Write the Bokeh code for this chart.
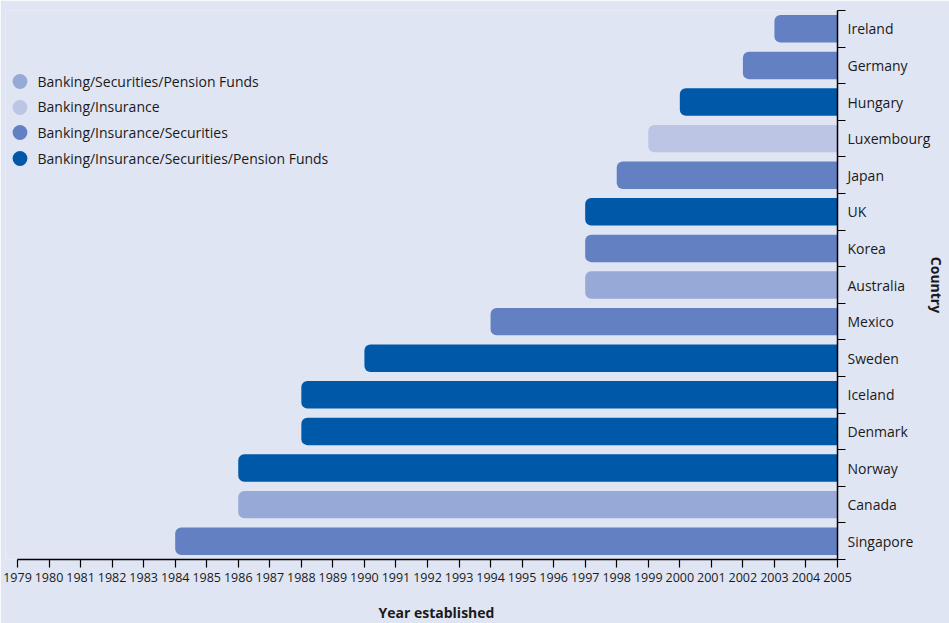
from bokeh.plotting import figure
from bokeh.models import ColumnDataSource, FixedTicker, Legend, LegendItem, Range1d, Title
from bokeh.embed import file_html
from bokeh.resources import INLINE

# Countries listed bottom to top, with the year the integrated supervisor was set up
countries = ["Singapore", "Canada", "Norway", "Denmark", "Iceland", "Sweden", "Mexico",
             "Australia", "Korea", "UK", "Japan", "Luxembourg", "Hungary", "Germany", "Ireland"]
start_years = [1984, 1986, 1986, 1988, 1988, 1990, 1994, 1997, 1997, 1997, 1998, 1999, 2000, 2002, 2003]
sectors = [
    "Banking/Insurance/Securities",
    "Banking/Securities/Pension Funds",
    "Banking/Insurance/Securities/Pension Funds",
    "Banking/Insurance/Securities/Pension Funds",
    "Banking/Insurance/Securities/Pension Funds",
    "Banking/Insurance/Securities/Pension Funds",
    "Banking/Insurance/Securities",
    "Banking/Securities/Pension Funds",
    "Banking/Insurance/Securities",
    "Banking/Insurance/Securities/Pension Funds",
    "Banking/Insurance/Securities",
    "Banking/Insurance",
    "Banking/Insurance/Securities/Pension Funds",
    "Banking/Insurance/Securities",
    "Banking/Insurance/Securities",
]
sector_order = [
    "Banking/Securities/Pension Funds",
    "Banking/Insurance",
    "Banking/Insurance/Securities",
    "Banking/Insurance/Securities/Pension Funds",
]
first_year = 1979
last_year = 2005
year_ticks = list(range(first_year, last_year + 1))

BG = "#e0e5f3"
TEXT = "#1a1a1a"
FONT = "Open Sans"
palette = {
    "Banking/Securities/Pension Funds": "#97a9d6",
    "Banking/Insurance": "#bcc5e4",
    "Banking/Insurance/Securities": "#6381c2",
    "Banking/Insurance/Securities/Pension Funds": "#0058a8",
}

rows = list(range(len(countries)))
source = ColumnDataSource(data=dict(
    y=rows,
    left=start_years,
    right=[last_year] * len(countries),
    color=[palette[s] for s in sectors],
))

# a little room left of 1979 so the legend markers are not clipped
FRAME_H = 549
lead = 0.38
p = figure(
    frame_width=832, frame_height=FRAME_H,
    x_range=Range1d(first_year - lead, last_year),
    y_range=Range1d(-0.5, len(countries) - 0.5),
    y_axis_location="right",
    output_backend="svg", toolbar_location=None,
    min_border_left=5, min_border_top=10, min_border_right=0, min_border_bottom=0,
    background_fill_color=BG, border_fill_color=BG, outline_line_color=None,
)
p.grid.visible = False

p.hbar(y="y", left="left", right="right", height=0.75, color="color",
       line_color=None, border_radius=(6, 0, 0, 6), source=source)

# x axis: one tick per year, line only across the year span
xa = p.xaxis[0]
xa.bounds = (first_year, last_year)
xa.ticker = FixedTicker(ticks=year_ticks, minor_ticks=[])
xa.major_tick_out = 8
xa.major_tick_in = 0
xa.axis_line_width = 1.5
xa.major_tick_line_width = 1.2
xa.axis_line_color = "black"
xa.major_label_text_font = FONT
xa.major_label_text_font_size = "12.5px"
xa.major_label_text_color = TEXT
xa.major_label_standoff = 5

p.add_layout(Title(text="Year established", align="left", offset=373, standoff=32,
                   text_font=FONT, text_font_size="14px", text_font_style="bold",
                   text_color=TEXT), "below")

# y axis: country names centred on rows, tick marks on row boundaries
ya = p.yaxis[0]
ya.ticker = FixedTicker(ticks=rows, minor_ticks=[r - 0.5 for r in rows] + [len(rows) - 0.5])
ya.major_label_overrides = {r: c for r, c in zip(rows, countries)}
ya.major_tick_out = 0
ya.major_tick_in = 0
ya.minor_tick_out = 8
ya.minor_tick_in = 0
ya.minor_tick_line_color = "black"
ya.minor_tick_line_width = 1.2
ya.axis_line_width = 1.5
ya.axis_line_color = "black"
ya.major_label_text_font = FONT
ya.major_label_text_font_size = "14px"
ya.major_label_text_color = TEXT
ya.major_label_standoff = 2
ya.axis_label = "Country"
ya.axis_label_text_font = FONT
ya.axis_label_text_font_size = "14px"
ya.axis_label_text_font_style = "bold"
ya.axis_label_text_color = TEXT
ya.axis_label_standoff = -6

# legend: one single-item legend per sector so the rows can sit closer
# than the marker box; the marker renderers themselves stay hidden
GLYPH_W, GLYPH_H = 37, 38
first_center = 71      # px below the frame top
row_step = 25.7
for i, s in enumerate(sector_order):
    r = p.scatter(x=[first_year], y=[rows[0]], marker="circle", size=15,
                  fill_color=palette[s], line_color=None, visible=False)
    center = first_center + i * row_step
    legend = Legend(
        items=[LegendItem(label=s, renderers=[r])],
        location=(-4.5, FRAME_H - center - GLYPH_H / 2),
        background_fill_alpha=0, border_line_alpha=0,
        padding=0, margin=0, spacing=0, click_policy="none",
        glyph_width=GLYPH_W, glyph_height=GLYPH_H, label_height=20, label_standoff=0,
        label_text_font=FONT, label_text_font_size="14px", label_text_color=TEXT,
    )
    p.add_layout(legend, "center")

open("out.html", "w").write(file_html(p, INLINE))
